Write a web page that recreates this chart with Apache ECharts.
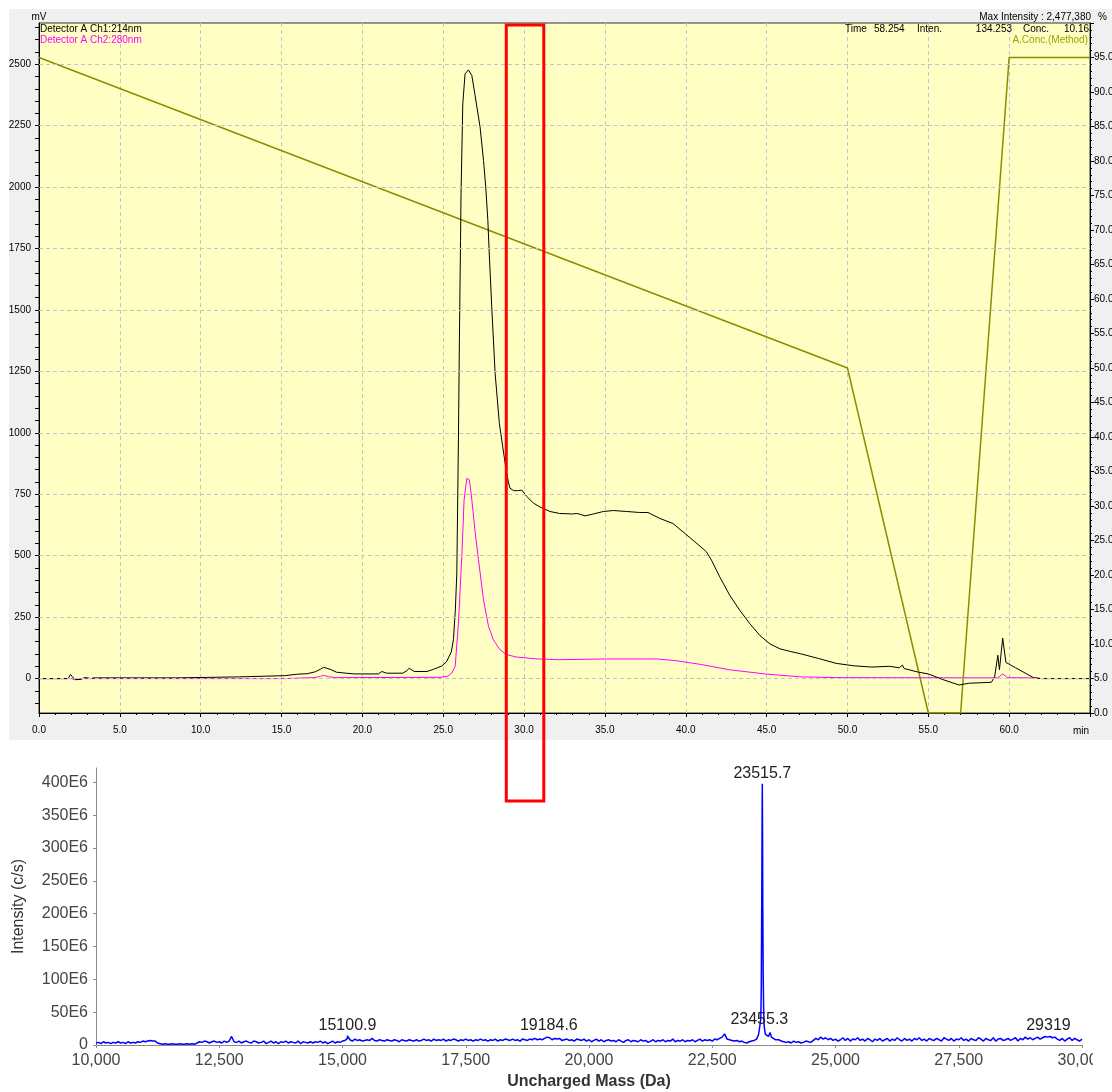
<!DOCTYPE html>
<html>
<head>
<meta charset="utf-8">
<script src="https://cdn.jsdelivr.net/npm/echarts@6/dist/echarts.min.js"></script>
<style>
html, body { margin: 0; padding: 0; background: #ffffff; }
#main { width: 1112px; height: 1092px; }
</style>
</head>
<body>
<div id="main"></div>
<script>
// ---- Chromatogram: Detector A, channel 1 (214 nm), time in min, signal in mV ----
const ch1Time = [0, 1.8, 1.95, 2.1, 2.3, 2.6, 2.8, 3.0, 3.2, 3.4, 8.5, 8.6, 12.4, 12.5, 15.2, 15.3, 16.0, 16.6, 17.1, 17.4, 17.6, 17.8, 18.0, 18.4, 19.0, 19.5, 21.0, 21.2, 21.5, 22.5, 22.7, 22.9, 23.2, 24.0, 24.4, 24.9, 25.2, 25.5, 25.63, 25.75, 25.84, 25.94, 26.0, 26.07, 26.1, 26.21, 26.35, 26.56, 26.77, 26.97, 27.28, 27.49, 27.63, 27.76, 27.84, 28.0, 28.21, 28.47, 28.68, 28.89, 29.03, 29.13, 29.35, 29.6, 29.86, 30.17, 30.58, 31.0, 31.6, 32.2, 33.0, 33.26, 33.5, 33.77, 34.28, 34.9, 35.52, 36.35, 37.15, 37.66, 38.39, 39.21, 39.94, 40.56, 41.28, 41.59, 42.1, 42.72, 43.35, 43.97, 44.59, 45.21, 45.83, 46.5, 47.1, 48.2, 49.3, 50.4, 51.5, 52.6, 53.2, 53.4, 53.5, 54.4, 55.0, 55.9, 56.9, 57.5, 58.9, 59.1, 59.3, 59.4, 59.6, 59.8, 60.4, 61.5, 62.0, 65.0];
const ch1Signal = [0, 0, 17, 4, -4, -3, 4, 3, 0, 3, 3, 7, 7, 12, 12, 17, 18, 20, 28, 38, 46, 42, 38, 26, 22, 19, 19, 29, 22, 22, 30, 42, 29, 29, 38, 51, 68, 109, 158, 280, 430, 971, 1377, 1784, 1973, 2339, 2461, 2477, 2454, 2373, 2244, 2109, 2000, 1865, 1740, 1513, 1242, 1039, 944, 849, 800, 775, 765, 765, 767, 741, 714, 698, 680, 672, 670, 672, 668, 662, 670, 680, 684, 680, 676, 676, 652, 631, 591, 557, 516, 482, 414, 339, 277, 223, 175, 141, 121, 110, 101, 82, 62, 52, 47, 50, 44, 55, 41, 26, 19, -4, -26, -19, -15, 7, 95, 36, 165, 66, 44, 4, 0, 0];

// ---- Chromatogram: Detector A, channel 2 (280 nm) ----
const ch2Time = [0, 2.0, 2.2, 2.4, 2.6, 3.0, 15.2, 15.3, 17.0, 17.4, 17.6, 17.9, 18.3, 24.8, 25.3, 25.53, 25.74, 25.94, 26.15, 26.29, 26.46, 26.62, 26.77, 26.98, 27.18, 27.49, 27.8, 28.1, 28.5, 28.9, 29.5, 30.8, 32.2, 35.1, 37.2, 38.2, 39.4, 40.9, 42.7, 44.9, 47.1, 49.3, 59.3, 59.6, 59.9, 61.3, 62.0];
const ch2Signal = [0, 0, -4, -4, 0, 0, 0, 4, 4, 9, 13, 8, 4, 5, 10, 23, 50, 226, 497, 727, 815, 809, 727, 592, 484, 321, 213, 158, 118, 98, 88, 80, 77, 80, 80, 80, 73, 58, 36, 19, 7, 4, 3, 19, 4, 3, 0];

// ---- Pump program: A concentration (%) ----
const gradTime = [0, 50, 55, 57, 60, 65];
const gradConc = [95, 50, 0, 0, 95, 95];

// ---- Axis tick values of the chromatogram ----
const mvLabels = [0, 250, 500, 750, 1000, 1250, 1500, 1750, 2000, 2250, 2500];
const mvTicks = [-100, -50, 0, 50, 100, 150, 200, 250, 300, 350, 400, 450, 500, 550, 600, 650, 700, 750, 800, 850, 900, 950, 1000, 1050, 1100, 1150, 1200, 1250, 1300, 1350, 1400, 1450, 1500, 1550, 1600, 1650, 1700, 1750, 1800, 1850, 1900, 1950, 2000, 2050, 2100, 2150, 2200, 2250, 2300, 2350, 2400, 2450, 2500, 2550, 2600, 2650];

// ---- Deconvoluted mass spectrum (intensity in units of 1E6 c/s) ----
// baseline sampled every 50 Da, below and above the main peak
const noiseStep = 50;
const noiseAStart = 10000;
const noiseA = [
  3, 4, 2, 5, 3, 4, 2, 4, 3, 5,
  3, 4, 2, 5, 3, 4, 3, 5, 4, 6,
  5, 6, 7, 6, 6, 3, 2, 1, 2, 1,
  1, 2, 1, 1, 2, 1, 1, 2, 1, 2,
  1, 3, 5, 4, 6, 5, 3, 5, 6, 4,
  5, 3, 6, 4, 6, 13, 5, 4, 6, 3,
  5, 6, 4, 3, 6, 5, 3, 4, 6, 2,
  4, 6, 3, 5, 2, 5, 4, 6, 3, 5,
  4, 3, 6, 2, 5, 4, 3, 5, 3, 5,
  4, 6, 3, 5, 2, 4, 6, 3, 5, 4,
  6, 7, 10, 8, 6, 9, 7, 8, 6, 7,
  8, 7, 10, 7, 6, 8, 7, 6, 8, 7,
  6, 8, 7, 5, 8, 7, 6, 8, 7, 6,
  8, 6, 7, 9, 7, 8, 6, 9, 7, 8,
  7, 9, 6, 8, 7, 9, 8, 6, 8, 7,
  9, 7, 8, 6, 8, 7, 9, 7, 8, 6,
  8, 7, 9, 6, 8, 7, 9, 8, 7, 9,
  7, 8, 6, 9, 8, 7, 9, 8, 10, 8,
  9, 8, 10, 12, 11, 8, 10, 9, 10, 7,
  8, 9, 7, 8, 6, 9, 8, 7, 9, 6,
  8, 5, 7, 9, 6, 8, 5, 7, 8, 6,
  7, 5, 8, 6, 4, 7, 8, 5, 7, 6,
  5, 8, 6, 7, 4, 6, 8, 5, 7, 6,
  8, 5, 7, 6, 9, 5, 7, 6, 8, 5,
  7, 6, 8, 5, 7, 9, 6, 8, 7, 8,
  6, 9, 8, 10, 12, 17, 9, 8, 7, 6,
  7, 5, 6, 4, 3, 5, 6, 7, 9
];
const noiseBStart = 23850;
const noiseB = [
  8, 6, 5,
  4, 5, 3, 6, 4, 5, 3, 4, 6, 5,
  4, 7, 10, 8, 12, 9, 11, 8, 10, 7,
  9, 6, 8, 11, 7, 10, 6, 9, 8, 11,
  7, 9, 6, 10, 8, 5, 9, 7, 10, 6,
  8, 10, 6, 9, 7, 11, 8, 6, 10, 7,
  9, 6, 10, 8, 11, 7, 9, 6, 10, 8,
  7, 10, 8, 6, 11, 9, 7, 10, 6, 9,
  8, 11, 7, 9, 6, 10, 8, 7, 11, 9,
  6, 10, 8, 7, 11, 6, 9, 10, 7, 8,
  10, 7, 9, 11, 6, 10, 8, 12, 9, 11,
  8, 10, 12, 9, 11, 13, 12, 13, 11, 12,
  9, 7, 10, 6, 9, 11, 7, 10, 8, 6,
  9
];
// flanks of the main peak
const mainPeakMass = [23420, 23440, 23470, 23485, 23495, 23505, 23512, 23520, 23526, 23533, 23542, 23552, 23565, 23580, 23607, 23640, 23673, 23700, 23740, 23780, 23810];
const mainPeakIntensity = [12, 16, 22, 40, 90, 230, 360, 330, 200, 110, 55, 30, 22, 16, 18, 13, 19, 12, 11, 8, 6];
// labelled apexes
const apexMass = [15100.9, 19184.6, 23455.3, 23515.7, 29319];
const apexIntensity = [14, 15, 24, 398, 14];

const intensityLabels = [0, 50, 100, 150, 200, 250, 300, 350, 400];

// ---- build series data ----
const ch1Data = ch1Time.map((t, i) => [t, ch1Signal[i]]);
const ch2Data = ch2Time.map((t, i) => [t, ch2Signal[i]]);
const gradData = gradTime.map((t, i) => [t, gradConc[i]]);

const spectrum = [];
noiseA.forEach((v, i) => spectrum.push([noiseAStart + i * noiseStep, v]));
noiseB.forEach((v, i) => spectrum.push([noiseBStart + i * noiseStep, v]));
mainPeakMass.forEach((m, i) => spectrum.push([m, mainPeakIntensity[i]]));
apexMass.forEach((m, i) => spectrum.push([m, apexIntensity[i]]));
spectrum.sort((a, b) => a[0] - b[0]);

const FONT = '"Liberation Sans", Arial, sans-serif';
const OLIVE = '#8c8c00';

const chart = echarts.init(document.getElementById('main'), null, { renderer: 'canvas' });

const option = {
  animation: false,
  textStyle: { fontFamily: FONT },
  grid: [
    { left: 39, top: 23, width: 1051, height: 690, show: true, backgroundColor: '#ffffc4',
      borderColor: '#333333', borderWidth: 1, outerBoundsMode: 'none', containLabel: false },
    { left: 96, top: 768, width: 986, height: 277, show: false, outerBoundsMode: 'none', containLabel: false }
  ],
  xAxis: [
    {
      gridIndex: 0, type: 'value', min: 0, max: 65, interval: 5,
      axisLine: { show: true, onZero: false, lineStyle: { color: '#000000', width: 1 } },
      axisTick: { show: true, length: 4, lineStyle: { color: '#000000' } },
      minorTick: { show: true, splitNumber: 5, length: 2, lineStyle: { color: '#000000' } },
      axisLabel: { fontSize: 10, color: '#000000', margin: 12, fontFamily: FONT,
        formatter: v => (v === 65 ? '' : v.toFixed(1)) },
      splitLine: { show: true, lineStyle: { color: '#c4c4c4', type: [4, 3], width: 1 } }
    },
    {
      gridIndex: 1, type: 'value', min: 10000, max: 30000, interval: 2500,
      axisLine: { show: true, onZero: false, lineStyle: { color: '#8a8a8a', width: 1 } },
      axisTick: { show: true, length: 3, lineStyle: { color: '#8a8a8a' } },
      axisLabel: { fontSize: 16, color: '#444444', margin: 8, fontFamily: FONT,
        formatter: v => v.toLocaleString('en-US') },
      splitLine: { show: false },
      name: 'Uncharged Mass (Da)', nameLocation: 'middle', nameGap: 29,
      nameTextStyle: { fontSize: 16, fontWeight: 'bold', color: '#333333', fontFamily: FONT }
    }
  ],
  yAxis: [
    {
      gridIndex: 0, type: 'value', min: -140, max: 2668, position: 'left',
      axisLine: { show: true, onZero: false, lineStyle: { color: '#000000', width: 1 } },
      axisTick: { show: true, length: 4, customValues: mvTicks, lineStyle: { color: '#000000' } },
      axisLabel: { fontSize: 10, color: '#000000', margin: 8, customValues: mvLabels, fontFamily: FONT,
        formatter: v => String(v) },
      splitLine: { show: false }
    },
    {
      gridIndex: 0, type: 'value', min: 0, max: 100, interval: 5, position: 'right',
      axisLine: { show: true, onZero: false, lineStyle: { color: '#000000', width: 1 } },
      axisTick: { show: true, length: 4, lineStyle: { color: '#000000' } },
      minorTick: { show: true, splitNumber: 5, length: 2, lineStyle: { color: '#000000' } },
      axisLabel: { fontSize: 10, color: '#000000', margin: 4, fontFamily: FONT,
        formatter: v => (v === 100 ? '' : v.toFixed(1)) },
      splitLine: { show: false }
    },
    {
      gridIndex: 1, type: 'value', min: 0, max: 422,
      axisLine: { show: true, onZero: false, lineStyle: { color: '#8a8a8a', width: 1 } },
      axisTick: { show: true, length: 3, customValues: intensityLabels, lineStyle: { color: '#8a8a8a' } },
      axisLabel: { fontSize: 16, color: '#444444', margin: 8, customValues: intensityLabels, fontFamily: FONT,
        formatter: v => (v === 0 ? '0' : v + 'E6') },
      splitLine: { show: false },
      name: 'Intensity (c/s)', nameLocation: 'middle', nameGap: 69, nameRotate: 90,
      nameTextStyle: { fontSize: 16, color: '#333333', fontFamily: FONT }
    }
  ],
  series: [
    {
      // horizontal dashed grid at the labelled mV values
      name: 'mV grid', type: 'line', xAxisIndex: 0, yAxisIndex: 0, data: [], z: 1, silent: true,
      markLine: {
        silent: true, symbol: ['none', 'none'], label: { show: false }, animation: false,
        lineStyle: { color: '#c4c4c4', type: [4, 3], width: 1 },
        emphasis: { disabled: true },
        data: mvLabels.map(v => ({ yAxis: v }))
      }
    },
    {
      name: 'A.Conc.(Method)', type: 'line', xAxisIndex: 0, yAxisIndex: 1, data: gradData,
      showSymbol: false, symbol: 'none', z: 2, silent: true,
      lineStyle: { color: OLIVE, width: 1.5 }
    },
    {
      name: 'Detector A Ch2:280nm', type: 'line', xAxisIndex: 0, yAxisIndex: 0, data: ch2Data,
      showSymbol: false, symbol: 'none', z: 3, silent: true,
      lineStyle: { color: '#ff00ff', width: 1 }
    },
    {
      name: 'Detector A Ch1:214nm', type: 'line', xAxisIndex: 0, yAxisIndex: 0, data: ch1Data,
      showSymbol: false, symbol: 'none', z: 4, silent: true,
      lineStyle: { color: '#000000', width: 1 }
    },
    {
      name: 'Deconvoluted spectrum', type: 'line', xAxisIndex: 1, yAxisIndex: 2, data: spectrum,
      showSymbol: false, symbol: 'none', z: 3, silent: true,
      lineStyle: { color: '#0000ff', width: 1.5 },
      markPoint: {
        silent: true, symbol: 'circle', symbolSize: 0, animation: false,
        label: { show: true, position: 'top', distance: 2, fontSize: 16, color: '#222222', fontFamily: FONT,
          formatter: p => String(p.data.coord[0]) },
        data: apexMass.map((m, i) => ({ coord: [m, apexIntensity[i]] }))
      }
    }
  ]
};

chart.setOption(option);

// annotations and panel texts
const txt = (x, y, text, align, color) => ({
  type: 'text', x: x, y: y, z: 50, silent: true,
  style: { text: text, font: '10px ' + FONT, fill: color || '#000000', align: align || 'left', verticalAlign: 'middle' }
});

const boxLeft = chart.convertToPixel({ xAxisIndex: 0 }, 28.9);
const boxRight = chart.convertToPixel({ xAxisIndex: 0 }, 31.22);

chart.setOption({
  graphic: [
    { type: 'rect', z: -1, silent: true, shape: { x: 9, y: 9, width: 1103, height: 731 }, style: { fill: '#f0f0f0' } },
    txt(39, 17, 'mV', 'center'),
    txt(40, 29.5, 'Detector A Ch1:214nm', 'left', '#000000'),
    txt(40, 40.5, 'Detector A Ch2:280nm', 'left', '#ff00ff'),
    txt(1091, 17, 'Max Intensity : 2,477,380', 'right'),
    txt(1098, 17, '%', 'left'),
    txt(845, 29.5, 'Time', 'left'),
    txt(874, 29.5, '58.254', 'left'),
    txt(917, 29.5, 'Inten.', 'left'),
    txt(1012, 29.5, '134.253', 'right'),
    txt(1023, 29.5, 'Conc.', 'left'),
    txt(1089, 29.5, '10.16', 'right'),
    txt(1088, 40.5, 'A.Conc.(Method)', 'right', '#a3a300'),
    txt(1089, 731, 'min', 'right'),
    { type: 'rect', z: 60, silent: true,
      shape: { x: boxLeft, y: 25, width: boxRight - boxLeft, height: 776 },
      style: { fill: 'none', stroke: '#ff0000', lineWidth: 3 } },
    { type: 'rect', z: 60, silent: true, shape: { x: 1093, y: 1049, width: 19, height: 22 }, style: { fill: '#ffffff' } }
  ]
});
</script>
</body>
</html>
